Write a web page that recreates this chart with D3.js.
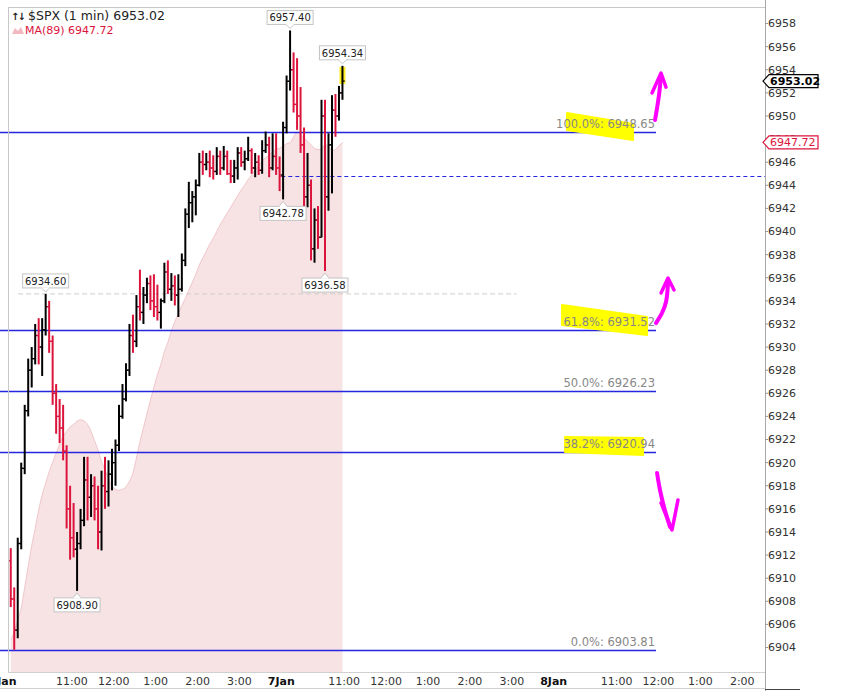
<!DOCTYPE html>
<html><head><meta charset="utf-8">
<script src="https://cdn.jsdelivr.net/npm/d3@7/dist/d3.min.js"></script>
<style>
body{margin:0;background:#fff}
svg{display:block}
text{font-family:"DejaVu Sans",Verdana,sans-serif}
</style>
</head><body>
<svg id="c" width="856" height="691"></svg>
<script>
// ---- Data (5-minute OHLC, $SPX 6 Jan 9:30 -> 7 Jan 11:00) ----
const opens  = [6911.5,6908.2,6905.5,6913.0,6919.5,6924.5,6928.0,6929.0,6931.0,6930.0,
                6931.5,6933.5,6930.5,6926.0,6924.0,6923.0,6921.0,6916.0,6913.5,6912.5,
                6913.0,6915.0,6918.5,6917.0,6918.0,6916.0,6914.0,6918.0,6917.5,6919.0,
                6920.0,6921.5,6924.0,6925.5,6928.0,6931.0,6930.5,6933.5,6933.0,6934.5,
                6935.5,6934.0,6933.5,6933.0,6934.0,6936.5,6935.0,6935.3,6934.5,6935.0,
                6937.5,6941.5,6942.5,6943.0,6944.0,6946.0,6945.8,6946.0,6945.5,6945.2,
                6946.5,6945.5,6946.5,6945.0,6944.8,6945.5,6946.8,6946.0,6946.3,6947.0,
                6945.5,6946.0,6945.3,6947.0,6947.5,6945.5,6946.5,6945.5,
                6944.9,6949.0,6953.0,6954.0,6951.0,6950.0,6947.5,6943.0,6944.0,6938.5,
                6941.0,6939.5,6950.0,6943.0,6947.5,6950.5,6950.0,6952.0];
const highs  = [6912.6,6909.2,6913.5,6920.0,6925.0,6929.0,6930.0,6932.0,6932.5,6932.5,
                6934.6,6934.0,6931.0,6926.8,6925.5,6925.0,6921.5,6918.0,6916.5,6914.0,
                6916.0,6920.5,6920.5,6919.0,6918.8,6918.0,6919.3,6920.5,6920.2,6921.2,
                6922.0,6925.0,6926.8,6928.6,6932.0,6932.8,6934.5,6936.7,6935.2,6936.0,
                6936.2,6936.3,6935.4,6934.2,6937.3,6937.5,6936.4,6936.2,6936.3,6938.1,
                6942.0,6944.3,6943.5,6944.5,6946.8,6947.0,6946.8,6947.0,6946.6,6947.3,
                6947.0,6947.4,6947.0,6946.2,6946.2,6947.3,6947.3,6947.0,6948.2,6947.2,
                6946.8,6946.6,6947.9,6948.65,6948.2,6948.5,6948.5,6946.5,
                6949.5,6953.5,6957.4,6955.5,6955.0,6952.5,6949.0,6946.8,6944.5,6942.0,
                6942.2,6951.4,6951.4,6948.5,6951.8,6951.9,6952.6,6954.34];
const lows   = [6907.5,6903.81,6904.8,6912.5,6919.0,6924.0,6926.5,6928.5,6928.5,6927.5,
                6931.0,6929.5,6925.0,6922.5,6921.7,6920.2,6914.3,6911.6,6911.8,6908.9,
                6912.5,6914.5,6915.0,6915.3,6915.0,6912.5,6912.4,6916.0,6916.2,6917.6,
                6918.0,6921.0,6923.8,6925.3,6927.5,6929.5,6930.0,6932.3,6932.0,6933.8,
                6933.2,6932.6,6932.3,6931.6,6933.8,6934.6,6934.0,6933.6,6932.6,6934.8,
                6937.0,6940.3,6940.8,6941.4,6943.9,6944.9,6945.3,6944.7,6944.5,6944.9,
                6944.9,6945.3,6944.9,6944.2,6944.2,6944.5,6945.6,6945.3,6946.1,6945.0,
                6944.7,6944.9,6945.0,6946.8,6944.7,6945.3,6944.9,6943.5,
                6942.78,6948.5,6952.2,6950.3,6948.8,6946.8,6942.1,6942.1,6937.5,6937.3,
                6938.5,6939.5,6936.58,6941.8,6943.3,6948.2,6949.6,6951.4];
const closes = [6908.2,6905.5,6913.0,6919.5,6924.5,6928.0,6929.0,6931.0,6930.0,6931.5,
                6933.5,6930.5,6926.0,6924.0,6923.0,6921.0,6916.0,6913.5,6912.5,6913.0,
                6915.0,6918.5,6917.0,6918.0,6916.0,6914.0,6918.0,6917.5,6919.0,6920.0,
                6921.5,6924.0,6925.5,6928.0,6931.0,6930.5,6933.5,6933.0,6934.5,6935.5,
                6934.0,6933.5,6933.0,6934.0,6936.5,6935.0,6935.3,6934.5,6935.0,6937.5,
                6941.5,6942.5,6943.0,6944.0,6946.0,6945.8,6946.0,6945.5,6945.2,6946.5,
                6945.5,6946.5,6945.0,6944.8,6945.5,6946.8,6946.0,6946.3,6947.0,6945.5,
                6946.0,6945.3,6947.0,6947.5,6945.5,6946.5,6945.5,6944.8,
                6949.0,6953.0,6954.0,6951.0,6950.0,6947.5,6943.0,6944.0,6938.5,6941.0,
                6939.5,6950.0,6943.0,6947.5,6950.5,6950.0,6952.0,6953.02];
const ma89   = [6904.7,6905.35,6906.4,6907.4,6909.2,6911.0,6912.8,6914.3,6915.9,6917.2,
                6918.2,6919.2,6920.0,6920.8,6921.6,6922.3,6922.7,6923.1,6923.3,6923.6,
                6923.7,6923.6,6923.3,6922.7,6921.9,6921.1,6920.1,6919.4,6918.6,6918.0,
                6917.7,6917.6,6917.7,6917.9,6918.4,6919.1,6920.4,6921.8,6923.0,6924.2,
                6925.4,6926.5,6927.6,6928.5,6929.6,6930.4,6931.4,6932.2,6932.9,6933.6,
                6934.2,6934.9,6935.6,6936.3,6937.1,6937.7,6938.3,6938.9,6939.4,6940.0,
                6940.6,6941.1,6941.6,6942.1,6942.6,6943.1,6943.6,6944.0,6944.5,6944.9,
                6945.3,6945.7,6946.1,6946.4,6946.6,6946.9,6947.1,6947.2,
                6947.4,6947.6,6947.7,6948.2,6948.6,6948.4,6948.1,6947.8,6947.5,6947.2,
                6947.1,6947.1,6947.5,6947.4,6947.0,6947.1,6947.4,6947.72];

const yTicks = d3.range(6904, 6959, 2);
const xTickMinutes = [0,90,150,210,270,330,390,480,540,600,660,720,780,870,930,990,1050];
const xTickLabels  = ["6Jan","11:00","12:00","1:00","2:00","3:00","7Jan","11:00","12:00","1:00","2:00","3:00","8Jan","11:00","12:00","1:00","2:00"];
const fibPercents = [100.0, 61.8, 50.0, 38.2, 0.0];
const fibValues   = [6948.65, 6931.52, 6926.23, 6920.94, 6903.81];
const prevClose = 6944.8;          // blue dashed line (prior close) on 7 Jan
const priorHigh = 6934.60;         // grey dashed level
const extremeBars  = [80, 95, 10, 78, 90, 19];
const extremeKinds = ["high","high","high","low","low","low"];
// hand-drawn annotations in data units [minute, price]
const highlights = [
  [[799.0,6950.26],[893.6,6949.30],[893.6,6947.92],[799.0,6948.79]],
  [[791.9,6933.64],[913.6,6932.60],[913.6,6931.04],[791.9,6931.91]],
  [[796.2,6922.21],[907.9,6922.13],[907.9,6920.66],[796.2,6920.92]]
];
const arrowShafts = [
  [[925.1,6949.65],[928.0,6950.69],[930.8,6951.81],[933.7,6953.46]],
  [[926.5,6932.08],[935.1,6932.95],[940.8,6933.90],[943.7,6935.54]],
  [[928.0,6919.10],[932.2,6917.63],[938.0,6916.16],[946.5,6914.43]]
];
const arrowHeads = [
  [[920.8,6951.99],[933.7,6953.72],[940.8,6952.50]],
  [[933.7,6934.68],[943.7,6935.98],[952.3,6934.94]],
  [[933.7,6916.51],[949.4,6914.17],[958.0,6916.77]]
];

// ---- Scales ----
const barMinutes = opens.map((d, i) => i * 5 + 2.5);
const x = d3.scaleLinear().domain([0, 1050]).range([9, 742.25]);
const y = d3.scaleLinear().domain([6901.88, 6959.43]).range([672, 7]);
const plotL = 8, plotR = 765, plotT = 7, plotB = 672;

const svg = d3.select("#c");
svg.append("rect").attr("width", 856).attr("height", 691).attr("fill", "#fff");

// MA(89) area
const maData = ma89.map((v, i) => [barMinutes[i], v]);
svg.append("path").datum(maData)
  .attr("d", d3.area().x(d => x(d[0])).y0(y(6901.88)).y1(d => y(d[1])).curve(d3.curveMonotoneX))
  .attr("fill", "#f7e3e4");
svg.append("path").datum(maData)
  .attr("d", d3.line().x(d => x(d[0])).y(d => y(d[1])).curve(d3.curveMonotoneX))
  .attr("fill", "none").attr("stroke", "#f0c6cb").attr("stroke-width", 1);

// grey dashed prior-high level
svg.append("line").attr("x1", x(13)).attr("x2", x(727))
  .attr("y1", y(priorHigh)).attr("y2", y(priorHigh))
  .attr("stroke", "#cfcfcf").attr("stroke-dasharray", "5,3").attr("stroke-width", 1);

// Fibonacci lines
const fibEnd = 926.5;
svg.selectAll(".fib").data(fibValues).join("line")
  .attr("x1", x(-13)).attr("x2", x(fibEnd))
  .attr("y1", d => Math.round(y(d)) + 0.5).attr("y2", d => Math.round(y(d)) + 0.5)
  .attr("stroke", "#2626e0").attr("stroke-width", 1.4);

// previous close dashed line
svg.append("line").attr("x1", x(390)).attr("x2", plotR)
  .attr("y1", Math.round(y(prevClose)) + 0.5).attr("y2", Math.round(y(prevClose)) + 0.5)
  .attr("stroke", "#2626e0").attr("stroke-dasharray", "4,3").attr("stroke-width", 1.2);

// yellow highlighter strokes
svg.selectAll(".hl").data(highlights).join("path")
  .attr("d", d => d3.line().x(p => x(p[0])).y(p => y(p[1])).curve(d3.curveLinearClosed)(d))
  .attr("fill", "#ffff00").attr("stroke", "#ffff00").attr("stroke-width", 2).attr("stroke-linejoin", "round");

// fib labels
svg.selectAll(".fibt").data(fibValues).join("text")
  .attr("x", x(fibEnd) - 1).attr("y", d => Math.round(y(d)) - 4)
  .attr("text-anchor", "end").attr("font-size", 11.5).attr("fill", "#888")
  .text((d, i) => `${fibPercents[i].toFixed(1)}%: ${d.toFixed(2)}`);

// last bar highlight
const lastI = closes.length - 1;
svg.append("rect").attr("x", x(barMinutes[lastI]) - 3).attr("width", 6)
  .attr("y", y(highs[lastI]) + 1).attr("height", y(closes[lastI]) - y(highs[lastI]) + 2)
  .attr("fill", "#ffee22");

// OHLC bars
const bars = svg.append("g");
opens.forEach((o, i) => {
  const cx = x(barMinutes[i]);
  const col = closes[i] >= o ? "#000" : "#dc143c";
  bars.append("line").attr("x1", cx).attr("x2", cx).attr("y1", y(highs[i])).attr("y2", y(lows[i]))
    .attr("stroke", col).attr("stroke-width", 2);
  bars.append("line").attr("x1", cx - 2.3).attr("x2", cx).attr("y1", y(o)).attr("y2", y(o))
    .attr("stroke", col).attr("stroke-width", 1.3);
  bars.append("line").attr("x1", cx).attr("x2", cx + 2.3).attr("y1", y(closes[i])).attr("y2", y(closes[i]))
    .attr("stroke", col).attr("stroke-width", 1.3);
});

// extreme labels
extremeBars.forEach((bi, k) => {
  const isHigh = extremeKinds[k] === "high";
  const v = isHigh ? highs[bi] : lows[bi];
  const cx = x(barMinutes[bi]), py = y(v);
  const w = 46, h = 14;
  const by = isHigh ? py - 6 - h : py + 7;
  const g = svg.append("g");
  const tipY = isHigh ? py - 2 : py + 2;
  const baseY = isHigh ? by + h : by;
  g.append("rect").attr("x", cx - w / 2).attr("y", by).attr("width", w).attr("height", h)
    .attr("fill", "#fff").attr("stroke", "#c4c4c4");
  g.append("path").attr("d", `M${cx - 4},${baseY} L${cx},${tipY} L${cx + 4},${baseY}`)
    .attr("fill", "#fff").attr("stroke", "#c4c4c4");
  g.append("rect").attr("x", cx - 3.5).attr("y", baseY - 0.6).attr("width", 7).attr("height", 1.2).attr("fill", "#fff");
  g.append("text").attr("x", cx).attr("y", by + 11).attr("text-anchor", "middle")
    .attr("font-size", 10).attr("fill", "#222").text(v.toFixed(2));
});

// frame
svg.append("line").attr("x1", plotL).attr("x2", plotR).attr("y1", plotT + 0.5).attr("y2", plotT + 0.5).attr("stroke", "#c8c8c8");
svg.append("line").attr("x1", plotL + 0.5).attr("x2", plotL + 0.5).attr("y1", plotT).attr("y2", plotB).attr("stroke", "#c8c8c8");
svg.append("line").attr("x1", plotL).attr("x2", plotR).attr("y1", plotB + 0.5).attr("y2", plotB + 0.5).attr("stroke", "#d0d0d0");
svg.append("line").attr("x1", plotR + 0.5).attr("x2", plotR + 0.5).attr("y1", 0).attr("y2", 691).attr("stroke", "#a8a8a8");
svg.append("line").attr("x1", 0).attr("x2", plotR).attr("y1", 688.5).attr("y2", 688.5).attr("stroke", "#d0d0d0");
svg.append("line").attr("x1", plotR).attr("x2", 800).attr("y1", 689.5).attr("y2", 689.5).attr("stroke", "#444");

// y axis
const ya = svg.append("g");
yTicks.forEach(t => {
  ya.append("line").attr("x1", plotR).attr("x2", plotR + 3).attr("y1", y(t)).attr("y2", y(t)).attr("stroke", "#999");
  ya.append("text").attr("x", plotR + 3).attr("y", y(t)).attr("dy", "0.36em")
    .attr("font-size", 11).attr("fill", "#333").text(t);
});

// x axis
xTickMinutes.forEach((m, i) => {
  const lab = xTickLabels[i];
  const bold = /Jan/.test(lab);
  svg.append("text").attr("x", x(m)).attr("y", 685).attr("text-anchor", "middle")
    .attr("dx", i === 0 ? -6 : 0)
    .attr("font-size", 11).attr("font-weight", bold ? "bold" : "normal")
    .attr("fill", bold ? "#111" : "#333").text(lab);
});

// price tags on axis
function tag(v, stroke, color, bold) {
  const py = y(v);
  const g = svg.append("g");
  g.append("path").attr("d", `M${plotR - 2},${py} L${plotR + 4},${py - 6.5} L${818},${py - 6.5} L${818},${py + 6.5} L${plotR + 4},${py + 6.5} Z`)
    .attr("fill", "#fff").attr("stroke", stroke).attr("stroke-width", 1.2);
  g.append("text").attr("x", plotR + 5).attr("y", py).attr("dy", "0.36em")
    .attr("font-size", 11).attr("font-weight", bold ? "bold" : "normal").attr("fill", color).text(v.toFixed(2));
}
tag(ma89[lastI], "#dc143c", "#dc143c", false);
tag(closes[lastI], "#000", "#000", true);

// legend
svg.append("text").attr("x", 11).attr("y", 20).attr("font-size", 10).attr("font-weight", "bold")
  .attr("letter-spacing", -2).attr("fill", "#222").text("↑↓");
svg.append("text").attr("x", 28).attr("y", 20).attr("font-size", 12.5).attr("fill", "#222")
  .text(`$SPX (1 min) ${closes[lastI].toFixed(2)}`);
svg.append("path").attr("d", "M12,34 L15,28 L18,31 L21,27 L24,34 Z").attr("fill", "#f2b8c0");
svg.append("text").attr("x", 25).attr("y", 33.5).attr("font-size", 11).attr("fill", "#dc143c")
  .text(`MA(89) ${ma89[lastI].toFixed(2)}`);

// magenta hand-drawn arrows
const ln = d3.line().x(p => x(p[0])).y(p => y(p[1]));
svg.selectAll(".ash").data(arrowShafts).join("path")
  .attr("d", d => ln.curve(d3.curveCatmullRom)(d))
  .attr("fill", "none").attr("stroke", "#ff00ff").attr("stroke-width", 4).attr("stroke-linecap", "round");
svg.selectAll(".ahd").data(arrowHeads).join("path")
  .attr("d", d => ln.curve(d3.curveLinear)(d))
  .attr("fill", "none").attr("stroke", "#ff00ff").attr("stroke-width", 3.5)
  .attr("stroke-linecap", "round").attr("stroke-linejoin", "round");
</script>
</body></html>
